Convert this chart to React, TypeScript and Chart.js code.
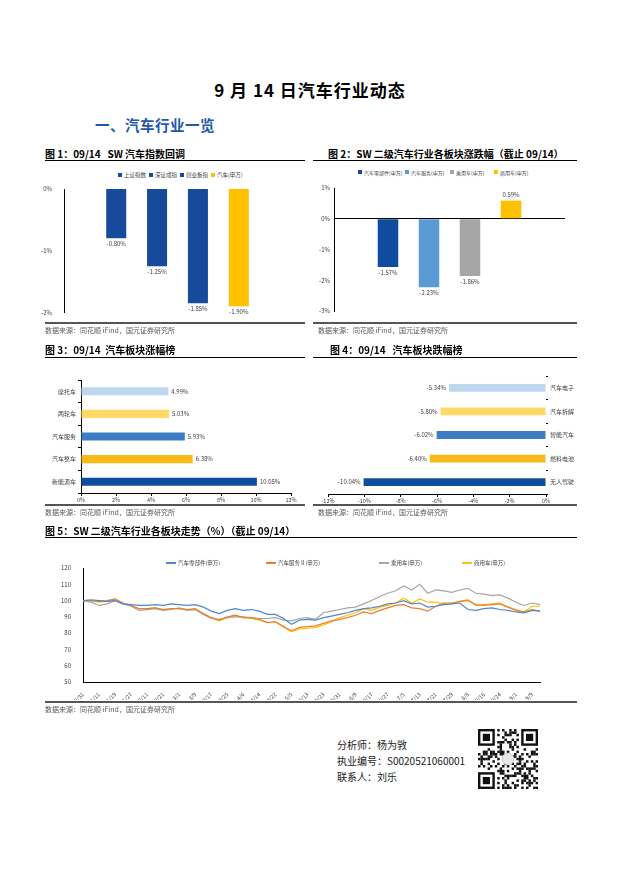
import React, { useEffect, useRef } from "react";
import { Chart, registerables } from "chart.js";
Chart.register(...registerables);

const FONT = '"Noto Sans CJK SC", "Noto Sans", sans-serif';
Chart.defaults.font.family = FONT;

// ---- Figure 1 ----
const c1Series = ["上证指数", "深证成指", "创业板指", "汽车(申万)"];
const c1Values = [-0.8, -1.25, -1.85, -1.9];
const c1Colors = ["#184A9C", "#184A9C", "#184A9C", "#FFC000"];

// ---- Figure 2 ----
const c2Series = ["汽车零部件(申万)", "汽车服务(申万)", "乘用车(申万)", "商用车(申万)"];
const c2Values = [-1.57, -2.23, -1.86, 0.59];
const c2Colors = ["#0F4C9F", "#5B9BD5", "#A5A5A5", "#FFC000"];

// ---- Figure 3 / 4 ----
const rankColors = ["#BDD7EE", "#FFD966", "#3C7DC4", "#F9B917", "#0F4C9E"];
const c3Cats = ["摩托车", "两轮车", "汽车服务", "汽车整车", "新能源车"];
const c3Values = [4.99, 5.03, 5.93, 6.38, 10.05];
const c4Cats = ["汽车电子", "汽车拆解", "智能汽车", "燃料电池", "无人驾驶"];
const c4Values = [-5.34, -5.8, -6.02, -6.4, -10.04];

// ---- Figure 5 ----
const c5Dates = ["12/31","1/6","1/11","1/14","1/19","1/24","1/27","2/8","2/11","2/16","2/21","2/24","3/1","3/4","3/9","3/14","3/17","3/22","3/25","3/30","4/6","4/11","4/14","4/19","4/22","4/27","5/5","5/10","5/13","5/18","5/23","5/26","5/31","6/6","6/9","6/14","6/17","6/22","6/27","6/30","7/5","7/8","7/13","7/18","7/21","7/26","7/29","8/3","8/8","8/11","8/16","8/19","8/24","8/29","9/1","9/6","9/9","9/14"];
const c5Names = ["汽车零部件(申万)", "汽车服务Ⅱ(申万)", "乘用车(申万)", "商用车(申万)"];
const c5Colors = ["#4F86CF", "#ED7D31", "#A5A5A5", "#FFC000"];
const c5Parts = [100,100.5,100,99.5,100,98,97.5,97,97,97.5,97,98,97.5,97,97.5,96,93.5,92,94,95,94,94.5,93.5,91.5,91.5,89,85.5,88,88.5,88,89.5,90.5,91.5,92.5,94,95,95.5,96.5,98,98.5,100,98,98.5,96,96.5,97.5,98,98.5,94.5,94,95,95.5,94.5,94,93,92.5,94,93.5];
const c5Service = [100,100,99.5,100,101,98.5,97,95,95,95.5,94.5,95,95,94.5,95,92,89.5,88,90,91,89.5,89.5,88.5,86.5,87,84,81.5,83.5,84,84.5,86,87.5,88.5,89.5,91,93,92,94,95.5,97,97.5,95.5,95,93.5,96.5,98.5,98.5,99.5,100,97.5,97,97.5,98,96,94,93,94.5,93.5];
const c5Passenger = [100,99,97,98,100,98,96.5,94,94.5,95,94,94.5,95.5,94,94.5,91.5,89,88.5,89.5,90,90,89.5,89,89,89.5,88,87.5,89,89.5,88.5,92.5,93.5,94.5,95.5,96,98,100,102.5,104.5,106,109,106.5,110,104.5,106.5,106,105,106.5,107.5,104.5,104,103,103.5,101.5,99,97,98.5,97.5];
const c5Commercial = [100,100,99,99.5,100.5,98,97,95,95,95.5,94.5,95,95,94.5,94.5,92,89.5,87.5,89.5,90.5,89.5,89,88,86.5,87,84,81,82.5,83,83.5,85,87,89.5,91,92.5,95,94,96,97,98.5,101.5,98.5,101,99,99,98,98,99.5,100.5,97,97.5,98,98.5,96,94.5,93,96.5,96.5];
const c5Series = [c5Parts, c5Service, c5Passenger, c5Commercial];

const TICK = "#404040";

const valueLabels = (mode: "v" | "hpos" | "hneg") => ({
  id: "valueLabels",
  afterDatasetsDraw(chart: any) {
    const ctx = chart.ctx;
    ctx.save();
    ctx.font = `6px ${FONT}`;
    ctx.fillStyle = "#404040";
    chart.data.datasets.forEach((ds: any, di: number) => {
      const meta = chart.getDatasetMeta(di);
      meta.data.forEach((el: any, i: number) => {
        const v = ds.data[i] as number;
        const txt = v.toFixed(2) + "%";
        if (mode === "v") {
          ctx.textAlign = "center";
          ctx.textBaseline = "middle";
          ctx.fillText(txt, el.x, v < 0 ? el.y + 5.5 : el.y - 5.5);
        } else if (mode === "hpos") {
          ctx.textAlign = "left";
          ctx.textBaseline = "middle";
          ctx.fillText(txt, el.x + 3, el.y);
        } else {
          ctx.textAlign = "right";
          ctx.textBaseline = "middle";
          ctx.fillText(txt, el.x - 3, el.y);
        }
      });
    });
    ctx.restore();
  },
});

const tickFont = { size: 6, family: FONT };

function cfg1(): any {
  return {
    type: "bar",
    data: {
      labels: [""],
      datasets: c1Series.map((s, i) => ({
        label: s, data: [c1Values[i]], backgroundColor: c1Colors[i],
        barPercentage: 0.49, categoryPercentage: 0.72,
      })),
    },
    options: {
      animation: false, responsive: false,
      layout: { padding: { top: 9, bottom: 7, right: 14, left: 0 } },
      plugins: { legend: { display: false }, tooltip: { enabled: false } },
      scales: {
        x: { display: false },
        y: {
          min: -2, max: 0,
          ticks: { stepSize: 1, callback: (v: any) => v + "%", font: tickFont, color: TICK, padding: 4 },
          grid: { display: false }, border: { color: "#000", width: 1 },
          afterFit: (s: any) => { s.width = 24; },
        },
      },
    },
    plugins: [valueLabels("v")],
  };
}

function cfg2(): any {
  return {
    type: "bar",
    data: {
      labels: [""],
      datasets: c2Series.map((s, i) => ({
        label: s, data: [c2Values[i]], backgroundColor: c2Colors[i],
        barPercentage: 0.5, categoryPercentage: 0.71,
      })),
    },
    options: {
      animation: false, responsive: false,
      layout: { padding: { top: 10, bottom: 12, right: 12, left: 0 } },
      plugins: { legend: { display: false }, tooltip: { enabled: false } },
      scales: {
        x: { display: false },
        y: {
          min: -3, max: 1,
          ticks: { stepSize: 1, callback: (v: any) => v + "%", font: tickFont, color: TICK, padding: 4 },
          grid: {
            drawTicks: false,
            color: (c: any) => (c.tick && c.tick.value === 0 ? "#000" : "rgba(0,0,0,0)"),
          },
          border: { color: "#000", width: 1 },
          afterFit: (s: any) => { s.width = 24; },
        },
      },
    },
    plugins: [valueLabels("v")],
  };
}

function cfg3(): any {
  return {
    type: "bar",
    data: {
      labels: c3Cats,
      datasets: [{ label: "涨幅", data: c3Values, backgroundColor: rankColors, barPercentage: 0.36, categoryPercentage: 1 }],
    },
    options: {
      indexAxis: "y", animation: false, responsive: false,
      layout: { padding: { top: 15, bottom: 0, right: 14, left: 0 } },
      plugins: { legend: { display: false }, tooltip: { enabled: false } },
      scales: {
        x: {
          min: 0, max: 12,
          ticks: { stepSize: 2, callback: (v: any) => v + "%", font: { size: 5.5, family: FONT }, color: TICK, padding: 1 },
          grid: { drawOnChartArea: false, tickLength: 3, color: "#000" },
          border: { color: "#000", width: 1 },
          afterFit: (s: any) => { s.height = 12; },
        },
        y: {
          ticks: { font: tickFont, color: TICK, padding: 2 },
          grid: { drawOnChartArea: false, tickLength: 3, color: "#000", offset: true },
          border: { color: "#000", width: 1 },
          afterFit: (s: any) => { s.width = 41; },
        },
      },
    },
    plugins: [valueLabels("hpos")],
  };
}

function cfg4(): any {
  return {
    type: "bar",
    data: {
      labels: c4Cats,
      datasets: [{ label: "跌幅", data: c4Values, backgroundColor: rankColors, barPercentage: 0.33, categoryPercentage: 1 }],
    },
    options: {
      indexAxis: "y", animation: false, responsive: false,
      layout: { padding: { top: 11, bottom: 0, right: 0, left: 18 } },
      plugins: { legend: { display: false }, tooltip: { enabled: false } },
      scales: {
        x: {
          min: -12, max: 0,
          ticks: { stepSize: 2, callback: (v: any) => v + "%", font: { size: 5.5, family: FONT }, color: TICK, padding: 1 },
          grid: { drawOnChartArea: false, tickLength: 3, color: "#000" },
          border: { color: "#000", width: 1 },
          afterFit: (s: any) => { s.height = 11; },
        },
        y: {
          position: "right",
          ticks: { font: tickFont, color: TICK, padding: 2 },
          grid: { drawOnChartArea: false, tickLength: 2, color: "#000", offset: true },
          border: { display: false },
          afterFit: (s: any) => { s.width = 31; },
        },
      },
    },
    plugins: [valueLabels("hneg")],
  };
}

function cfg5(): any {
  return {
    type: "line",
    data: {
      labels: c5Dates,
      datasets: c5Series.map((d, i) => ({
        label: c5Names[i], data: d, borderColor: c5Colors[i], backgroundColor: c5Colors[i],
        borderWidth: 1.2, pointRadius: 0, tension: 0, fill: false,
      })),
    },
    options: {
      animation: false, responsive: false,
      layout: { padding: { top: 13, bottom: 0, right: 37, left: 0 } },
      plugins: { legend: { display: false }, tooltip: { enabled: false } },
      scales: {
        x: {
          offset: false,
          ticks: {
            autoSkip: false, maxRotation: 45, minRotation: 45, font: { size: 5.5, family: FONT }, color: TICK, padding: 1,
            callback: (_v: any, i: number) => (i % 2 === 0 ? c5Dates[i] : null),
          },
          grid: { display: false },
          border: { color: "#000", width: 1 },
          afterFit: (s: any) => { s.height = 18; },
        },
        y: {
          min: 50, max: 120,
          ticks: { stepSize: 10, font: tickFont, color: TICK, padding: 4 },
          grid: { display: false },
          border: { color: "#000", width: 1 },
          afterFit: (s: any) => { s.width = 43; },
        },
      },
    },
  };
}

function ChartBox({ left, top, width, height, make }: any) {
  const ref = useRef<HTMLCanvasElement>(null);
  useEffect(() => {
    const chart = new Chart(ref.current as HTMLCanvasElement, make());
    return () => chart.destroy();
  }, []);
  return (
    <canvas ref={ref} width={width} height={height}
      style={{ position: "absolute", left, top, width, height }} />
  );
}

const T = (props: any) => {
  const { x, y, size, children, bold, color, align, w, ls } = props;
  return (
    <div style={{
      position: "absolute", left: x, top: y - size * 0.65, fontSize: size, lineHeight: `${size * 1.3}px`,
      fontWeight: bold ? 700 : 400, color: color || "#000", whiteSpace: "pre",
      width: w, textAlign: align || "left", fontFamily: FONT, letterSpacing: ls || 0,
    }}>{children}</div>
  );
};

const Line = ({ x, y, w, h, c }: any) => (
  <div style={{ position: "absolute", left: x, top: y, width: w, height: h, background: c }} />
);

function SqLegend({ items, colors, xs, y, fs }: any) {
  return (
    <>
      {items.map((t: string, i: number) => (
        <div key={i} style={{ position: "absolute", left: xs[i], top: y - 4, height: 8, display: "flex", alignItems: "center", fontSize: fs || 5.5, color: "#404040", fontFamily: FONT, whiteSpace: "nowrap" }}>
          <span style={{ display: "inline-block", width: 4, height: 4, background: colors[i], marginRight: 2 }} />
          {t}
        </div>
      ))}
    </>
  );
}

function LineLegend({ items, colors, xs, y }: any) {
  return (
    <>
      {items.map((t: string, i: number) => (
        <div key={i} style={{ position: "absolute", left: xs[i], top: y - 4, height: 8, display: "flex", alignItems: "center", fontSize: 5.5, color: "#404040", fontFamily: FONT, whiteSpace: "nowrap" }}>
          <span style={{ display: "inline-block", width: 10, height: 1.2, background: colors[i], marginRight: 2 }} />
          {t}
        </div>
      ))}
    </>
  );
}

function QR() {
  const n = 25;
  const s = 60 / n;
  const cells: any[] = [];
  const inF = (x: number, y: number) => (x < 8 && y < 8) || (x >= n - 8 && y < 8) || (x < 8 && y >= n - 8);
  for (let y = 0; y < n; y++) {
    for (let x = 0; x < n; x++) {
      if (inF(x, y)) continue;
      if ((x * x * 3 + y * 7 + x * y * 5 + (x ^ y)) % 5 < 2) {
        cells.push(<rect key={`${x}-${y}`} x={x * s} y={y * s} width={s + 0.1} height={s + 0.1} fill="#111" />);
      }
    }
  }
  const finder = (fx: number, fy: number) => (
    <g key={`f${fx}${fy}`}>
      <rect x={fx * s} y={fy * s} width={7 * s} height={7 * s} fill="#111" />
      <rect x={(fx + 1) * s} y={(fy + 1) * s} width={5 * s} height={5 * s} fill="#fff" />
      <rect x={(fx + 2) * s} y={(fy + 2) * s} width={3 * s} height={3 * s} fill="#111" />
    </g>
  );
  return (
    <svg width={60} height={60} style={{ position: "absolute", left: 478, top: 729 }}>
      {cells}
      {finder(0, 0)}{finder(n - 7, 0)}{finder(0, n - 7)}
      <circle cx={30} cy={30} r={6} fill="#e6e6e6" stroke="#bbb" strokeWidth={0.6} />
    </svg>
  );
}

const SRC = "数据来源：同花顺 iFind，国元证券研究所";

export default function App() {
  return (
    <div style={{ position: "absolute", left: 0, top: 0, width: 620, height: 877, background: "#fff", fontFamily: FONT }}>
      <T x={0} y={90} size={17} bold w={620} align="center" ls={1}>9 月 14 日汽车行业动态</T>
      <T x={95} y={125} size={14.5} bold color="#2457A8" ls={0.5}>一、汽车行业一览</T>

      {/* Figure 1 & 2 */}
      <T x={45} y={153} size={10} bold>{"图 1：09/14   SW 汽车指数回调"}</T>
      <T x={328} y={153} size={10} bold>图 2：SW 二级汽车行业各板块涨跌幅（截止 09/14）</T>
      <Line x={45} y={160} w={260} h={1.3} c="#000" />
      <Line x={313} y={160} w={264} h={1.3} c="#000" />
      <SqLegend items={c1Series} colors={c1Colors} xs={[118, 149, 180, 211]} y={175} />
      <SqLegend items={c2Series} colors={c2Colors} xs={[358, 405, 450, 494]} y={172} fs={5} />
      <ChartBox left={40} top={180} width={265} height={140} make={cfg1} />
      <ChartBox left={310} top={178} width={267} height={145} make={cfg2} />
      <Line x={45} y={322} w={260} h={2} c="#555" />
      <Line x={313} y={322} w={264} h={2} c="#555" />
      <T x={45} y={331} size={7} color="#595959">{SRC}</T>
      <T x={318} y={331} size={7} color="#595959">{SRC}</T>

      {/* Figure 3 & 4 */}
      <T x={45} y={349} size={10} bold>{"图 3：09/14  汽车板块涨幅榜"}</T>
      <T x={330} y={349} size={10} bold>{"图 4：09/14   汽车板块跌幅榜"}</T>
      <Line x={45} y={357} w={260} h={1.3} c="#000" />
      <Line x={313} y={357} w={264} h={1.3} c="#000" />
      <ChartBox left={40} top={365} width={265} height={140} make={cfg3} />
      <ChartBox left={310} top={365} width={267} height={140} make={cfg4} />
      <Line x={45} y={504} w={260} h={2} c="#555" />
      <Line x={313} y={504} w={264} h={2} c="#555" />
      <T x={45} y={513} size={7} color="#595959">{SRC}</T>
      <T x={318} y={513} size={7} color="#595959">{SRC}</T>

      {/* Figure 5 */}
      <T x={45} y={530} size={10} bold>图 5：SW 二级汽车行业各板块走势（%）（截止 09/14）</T>
      <Line x={45} y={537} w={532} h={1.3} c="#000" />
      <ChartBox left={40} top={555} width={537} height={145} make={cfg5} />
      <LineLegend items={c5Names} colors={c5Colors} xs={[166, 266, 379, 462]} y={563} />
      <Line x={45} y={701} w={532} h={2} c="#555" />
      <T x={45} y={710} size={7} color="#595959">{SRC}</T>

      {/* Analyst */}
      <T x={337} y={744} size={10} color="#222">分析师：杨为敩</T>
      <T x={337} y={760} size={10} color="#222">执业编号：S0020521060001</T>
      <T x={337} y={776} size={10} color="#222">联系人：刘乐</T>
      <QR />
    </div>
  );
}
